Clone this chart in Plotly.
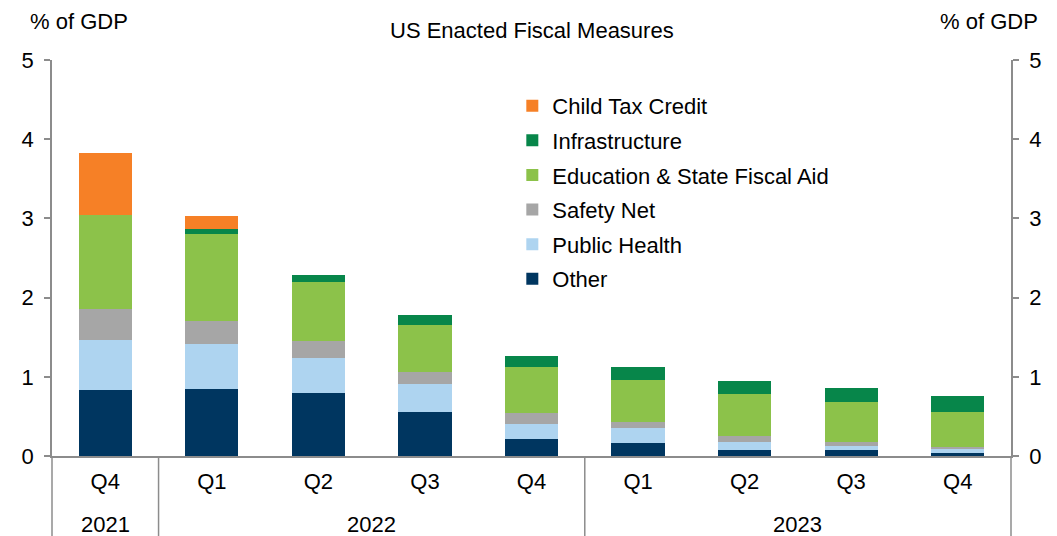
import plotly.graph_objects as go

years = ["2021", "2022", "2022", "2022", "2022", "2023", "2023", "2023", "2023"]
quarters = ["Q4", "Q1", "Q2", "Q3", "Q4", "Q1", "Q2", "Q3", "Q4"]

other = [0.83, 0.85, 0.79, 0.56, 0.215, 0.165, 0.076, 0.07, 0.04]
public_health = [0.64, 0.57, 0.45, 0.35, 0.195, 0.19, 0.104, 0.06, 0.05]
safety_net = [0.38, 0.29, 0.215, 0.15, 0.13, 0.075, 0.07, 0.05, 0.03]
education = [1.19, 1.09, 0.745, 0.59, 0.585, 0.535, 0.53, 0.50, 0.435]
infrastructure = [0.0, 0.06, 0.09, 0.13, 0.14, 0.155, 0.17, 0.18, 0.20]
child_tax_credit = [0.79, 0.17, 0.0, 0.0, 0.0, 0.0, 0.0, 0.0, 0.0]

series = [
    ("Other", other, "#003660"),
    ("Public Health", public_health, "#AED4F0"),
    ("Safety Net", safety_net, "#A6A6A6"),
    ("Education & State Fiscal Aid", education, "#8CC24A"),
    ("Infrastructure", infrastructure, "#07864A"),
    ("Child Tax Credit", child_tax_credit, "#F68026"),
]

FONT = "Liberation Sans, Arial, sans-serif"
FS = 22
AXC = "#8C8C8C"

cats = [f"{y} {q}" for y, q in zip(years, quarters)]
n = len(cats)

fig = go.Figure()
for i, (name, vals, col) in enumerate(series):
    fig.add_trace(go.Bar(
        x=cats, y=vals, name=name,
        marker=dict(color=col, line=dict(width=0)),
        legendgroup=f"g{i}", legendrank=1000 - i,
    ))

fig.add_trace(go.Scatter(x=cats, y=[None] * n, yaxis="y2",
                         showlegend=False, hoverinfo="skip", mode="markers"))

# year group labels and dividers
annotations = []
shapes = []
groups = []
for i, y in enumerate(years):
    if not groups or groups[-1][0] != y:
        groups.append([y, i, i])
    else:
        groups[-1][2] = i
for y, a, b in groups:
    annotations.append(dict(text=y, xref="x", yref="paper", x=(a + b) / 2, y=0,
                            yshift=-68, yanchor="middle", showarrow=False,
                            font=dict(size=FS)))
bounds = [0] + [g[2] + 1 for g in groups]
for bd in bounds:
    shapes.append(dict(type="line", xref="paper", yref="paper",
                       x0=bd / n, x1=bd / n, y0=0, y1=-0.25,
                       line=dict(color=AXC, width=1.5)))

annotations += [
    dict(text="US Enacted Fiscal Measures", xref="paper", yref="paper",
         x=0.5, y=1, yshift=30, showarrow=False, xanchor="center", yanchor="middle",
         font=dict(size=FS)),
    dict(text="% of GDP", xref="paper", yref="paper", x=0, xshift=-24,
         y=1, yshift=39, showarrow=False, xanchor="left", yanchor="middle",
         font=dict(size=FS)),
    dict(text="% of GDP", xref="paper", yref="paper", x=1, xshift=29,
         y=1, yshift=39, showarrow=False, xanchor="right", yanchor="middle",
         font=dict(size=FS)),
]

fig.update_layout(
    width=1057, height=536,
    margin=dict(l=52, r=46, t=60, b=80),
    barmode="stack", bargap=0.5,
    plot_bgcolor="white", paper_bgcolor="white",
    font=dict(family=FONT, size=FS, color="#000000"),
    showlegend=True,
    legend=dict(x=0.480, y=0.937, xanchor="left", yanchor="top",
                traceorder="grouped", tracegroupgap=3,
                font=dict(size=FS), bgcolor="rgba(0,0,0,0)"),
    xaxis=dict(type="category", tickmode="array", tickvals=cats, ticktext=quarters,
               range=[-0.5, n - 0.5],
               showline=True, linecolor=AXC, linewidth=1.5,
               ticks="", showgrid=False, tickfont=dict(size=FS),
               ticklabelstandoff=5),
    yaxis=dict(range=[0, 5], dtick=1, showline=True, linecolor=AXC, linewidth=1.5,
               ticks="outside", ticklen=6, tickcolor=AXC, tickwidth=1.5,
               showgrid=False, zeroline=False, tickfont=dict(size=FS),
               ticklabelstandoff=6),
    yaxis2=dict(range=[0, 5], dtick=1, overlaying="y", side="right", showline=True,
                linecolor=AXC, linewidth=1.5, ticks="outside", ticklen=6,
                tickcolor=AXC, tickwidth=1.5, showgrid=False, zeroline=False,
                tickfont=dict(size=FS), ticklabelstandoff=6),
    annotations=annotations,
    shapes=shapes,
)

fig.write_html("out.html", config={"displayModeBar": False},
               post_script="document.body.style.margin='0';document.body.style.overflow='hidden';")
